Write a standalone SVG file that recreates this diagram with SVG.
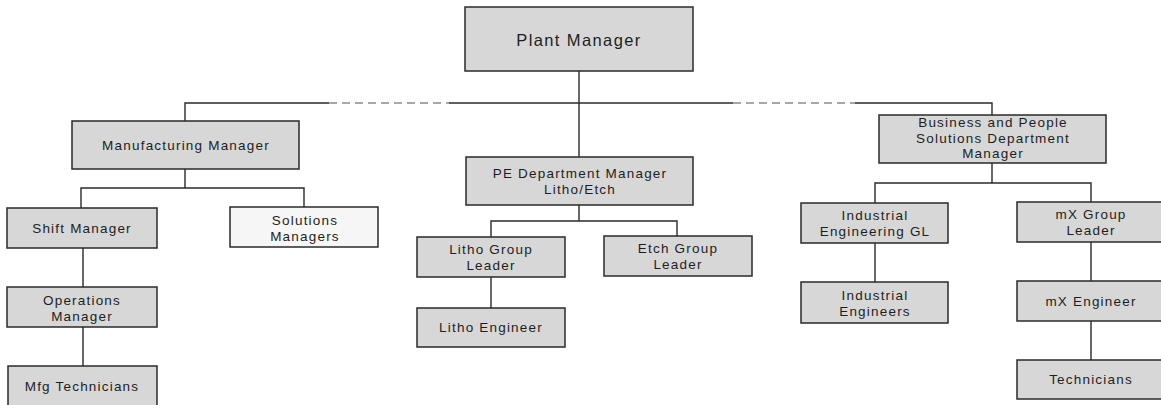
<svg xmlns="http://www.w3.org/2000/svg" width="1161" height="405" viewBox="0 0 1161 405">
  <style>
    .box { fill: #d7d7d7; stroke: #2a2a2a; stroke-width: 1.5; }
    .box.plain { fill: #f6f6f6; }
    .lbl { font-family: "Liberation Sans", Arial, sans-serif; font-size: 13.5px; letter-spacing: 1.2px; fill: #1e1e1e; text-anchor: middle; }
    .lbl.big { font-size: 16.5px; letter-spacing: 1.4px; }
    .wire { stroke: #2a2a2a; stroke-width: 1.4; fill: none; }
    .dash { stroke: #8a8a8a; stroke-width: 1.4; stroke-dasharray: 8 5; fill: none; }
  </style>

  <rect width="1161" height="405" fill="#ffffff"/>

  <g id="connectors">
    <!-- plant manager trunk -->
    <path class="wire" d="M579 71 V157"/>
    <!-- top bus: solid and dotted-line reporting segments -->
    <path class="wire" d="M185 121 V103 H329"/>
    <path class="dash" d="M329 103 H449"/>
    <path class="wire" d="M449 103 H733"/>
    <path class="dash" d="M733 103 H855"/>
    <path class="wire" d="M855 103 H992 V115"/>
    <!-- manufacturing branch -->
    <path class="wire" d="M185 169 V188 M81 208 V188 H304 V207"/>
    <path class="wire" d="M83 248 V287 M83 327 V366"/>
    <!-- PE branch -->
    <path class="wire" d="M579 205 V221 M491 237 V221 H677 V236"/>
    <path class="wire" d="M491 277 V308"/>
    <!-- business and people branch -->
    <path class="wire" d="M992 163 V183 M875 203 V183 H1091 V202"/>
    <path class="wire" d="M875 243 V282"/>
    <path class="wire" d="M1091 242 V281 M1091 321 V360"/>
  </g>

  <g id="plant-manager">
    <rect class="box" x="465" y="7" width="228" height="64"/>
    <text class="lbl big" x="579" y="46">Plant Manager</text>
  </g>

  <g id="manufacturing-manager">
    <rect class="box" x="72" y="121" width="227" height="48"/>
    <text class="lbl" x="186" y="150">Manufacturing Manager</text>
  </g>

  <g id="pe-department-manager">
    <rect class="box" x="466" y="157" width="227" height="48"/>
    <text class="lbl" x="580" y="178">PE Department Manager</text>
    <text class="lbl" x="580" y="194">Litho/Etch</text>
  </g>

  <g id="bps-department-manager">
    <rect class="box" x="879" y="115" width="227" height="48"/>
    <text class="lbl" x="993" y="127">Business and People</text>
    <text class="lbl" x="993" y="143">Solutions Department</text>
    <text class="lbl" x="993" y="158">Manager</text>
  </g>

  <g id="shift-manager">
    <rect class="box" x="7" y="208" width="150" height="40"/>
    <text class="lbl" x="82" y="233">Shift Manager</text>
  </g>

  <g id="solutions-managers">
    <rect class="box plain" x="230" y="207" width="148" height="40"/>
    <text class="lbl" x="305" y="225">Solutions</text>
    <text class="lbl" x="305" y="241">Managers</text>
  </g>

  <g id="operations-manager">
    <rect class="box" x="7" y="287" width="150" height="40"/>
    <text class="lbl" x="82" y="305">Operations</text>
    <text class="lbl" x="82" y="321">Manager</text>
  </g>

  <g id="mfg-technicians">
    <rect class="box" x="8" y="366" width="149" height="42"/>
    <text class="lbl" x="82" y="391">Mfg Technicians</text>
  </g>

  <g id="litho-group-leader">
    <rect class="box" x="417" y="237" width="148" height="40"/>
    <text class="lbl" x="491" y="254">Litho Group</text>
    <text class="lbl" x="491" y="270">Leader</text>
  </g>

  <g id="etch-group-leader">
    <rect class="box" x="604" y="236" width="148" height="40"/>
    <text class="lbl" x="678" y="253">Etch Group</text>
    <text class="lbl" x="678" y="269">Leader</text>
  </g>

  <g id="litho-engineer">
    <rect class="box" x="417" y="308" width="148" height="39"/>
    <text class="lbl" x="491" y="332">Litho Engineer</text>
  </g>

  <g id="industrial-engineering-gl">
    <rect class="box" x="801" y="203" width="147" height="40"/>
    <text class="lbl" x="875" y="220">Industrial</text>
    <text class="lbl" x="875" y="236">Engineering GL</text>
  </g>

  <g id="industrial-engineers">
    <rect class="box" x="801" y="282" width="147" height="41"/>
    <text class="lbl" x="875" y="300">Industrial</text>
    <text class="lbl" x="875" y="316">Engineers</text>
  </g>

  <g id="mx-group-leader">
    <rect class="box" x="1017" y="202" width="150" height="40"/>
    <text class="lbl" x="1091" y="219">mX Group</text>
    <text class="lbl" x="1091" y="235">Leader</text>
  </g>

  <g id="mx-engineer">
    <rect class="box" x="1017" y="281" width="150" height="40"/>
    <text class="lbl" x="1091" y="306">mX Engineer</text>
  </g>

  <g id="technicians">
    <rect class="box" x="1017" y="360" width="150" height="39"/>
    <text class="lbl" x="1091" y="384">Technicians</text>
  </g>
</svg>
